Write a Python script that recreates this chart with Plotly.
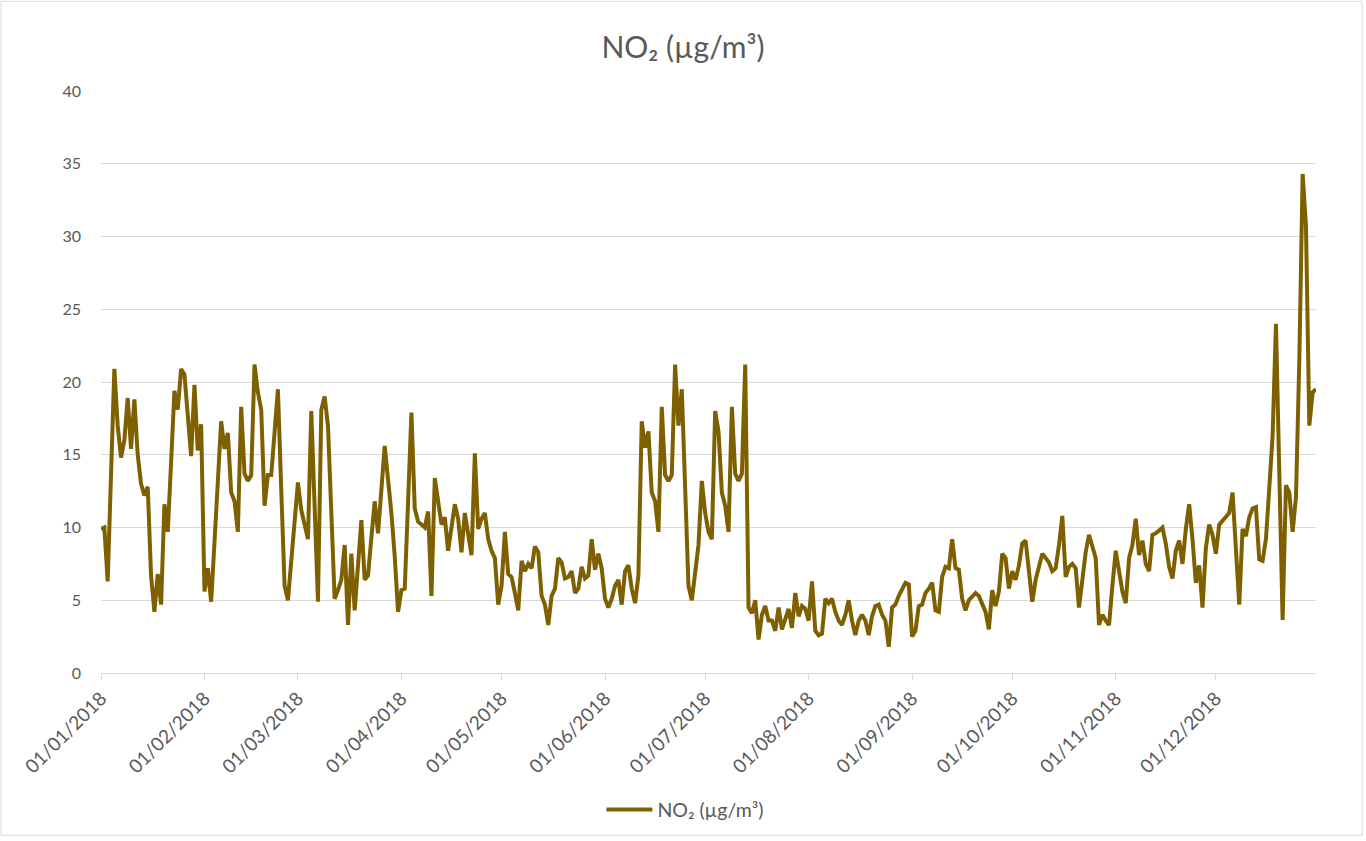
import pandas as pd
import plotly.graph_objects as go

# Daily NO2 concentrations for 2018 (µg/m³), one list per month
jan = [9.9, 10.0, 6.3, 13.5, 20.9, 17.0, 14.8, 16.0, 18.9, 15.4, 18.8, 15.0, 13.0, 12.2, 12.8, 6.7,
       4.2, 6.8, 4.7, 11.6, 9.7, 14.5, 19.4, 18.1, 20.9, 20.5, 17.8, 14.9, 19.8, 15.3, 17.1]
feb = [5.6, 7.2, 4.9, 9.0, 13.2, 17.3, 15.4, 16.5, 12.4, 11.8, 9.7, 18.3, 13.7, 13.2, 13.6, 21.2,
       19.3, 18.1, 11.5, 13.6, 13.6, 16.8, 19.5, 12.6, 6.0, 5.0, 7.7, 10.4]
mar = [13.1, 11.2, 10.3, 9.2, 18.0, 11.5, 4.9, 18.1, 19.0, 17.0, 11.0, 5.1, 5.7, 6.4, 8.8, 3.3,
       8.2, 4.3, 7.4, 10.5, 6.4, 6.7, 9.3, 11.8, 9.6, 12.6, 15.6, 13.3, 11.0, 8.0, 4.2]
apr = [5.7, 5.8, 11.8, 17.9, 11.3, 10.4, 10.2, 10.0, 11.1, 5.3, 13.4, 11.8, 10.2, 10.7, 8.4, 10.0,
       11.6, 10.6, 8.3, 11.0, 9.5, 8.1, 15.1, 9.9, 10.6, 11.0, 9.2, 8.4, 7.9, 4.7]
may = [6.0, 9.7, 6.8, 6.6, 5.5, 4.3, 7.7, 7.0, 7.5, 7.2, 8.7, 8.3, 5.3, 4.7, 3.3, 5.3,
       5.8, 7.9, 7.6, 6.5, 6.6, 7.0, 5.5, 5.8, 7.3, 6.5, 6.7, 9.2, 7.1, 8.2, 7.2]
jun = [5.1, 4.5, 5.1, 6.0, 6.4, 4.7, 7.0, 7.4, 5.8, 4.8, 6.7, 17.3, 15.5, 16.6, 12.4, 11.8,
       9.7, 18.3, 13.6, 13.2, 13.6, 21.2, 17.0, 19.5, 12.7, 6.0, 5.0, 6.9, 8.8, 13.2]
jul = [11.0, 9.7, 9.2, 18.0, 16.6, 12.4, 11.5, 9.7, 18.3, 13.7, 13.2, 13.7, 21.2, 4.5, 4.1, 5.0,
       2.3, 4.0, 4.6, 3.6, 3.6, 2.9, 4.5, 3.0, 3.8, 4.4, 3.1, 5.5, 3.9, 4.6, 4.4]
aug = [3.6, 6.3, 2.9, 2.6, 2.7, 5.1, 4.8, 5.1, 4.2, 3.6, 3.3, 4.0, 5.0, 3.6, 2.6, 3.6,
       4.0, 3.6, 2.6, 3.9, 4.6, 4.7, 4.0, 3.6, 1.8, 4.5, 4.7, 5.3, 5.8, 6.2, 6.1]
sep = [2.5, 2.9, 4.6, 4.7, 5.5, 5.8, 6.2, 4.3, 4.2, 6.6, 7.3, 7.2, 9.2, 7.2, 7.1, 5.1,
       4.3, 5.0, 5.3, 5.5, 5.3, 4.7, 4.2, 3.0, 5.7, 4.6, 5.6, 8.2, 7.9, 5.8]
oct_ = [7.0, 6.4, 7.4, 8.9, 9.1, 7.0, 4.9, 6.4, 7.3, 8.2, 7.9, 7.6, 7.0, 7.2, 8.8, 10.8,
        6.6, 7.3, 7.5, 7.2, 4.5, 6.5, 8.3, 9.5, 8.7, 7.9, 3.3, 4.0, 3.6, 3.3, 6.0]
nov = [8.4, 7.0, 5.6, 4.8, 7.9, 8.8, 10.6, 8.1, 9.1, 7.5, 7.0, 9.5, 9.6, 9.8, 10.0, 8.9,
       7.3, 6.5, 8.4, 9.1, 7.5, 9.9, 11.6, 9.2, 6.2, 7.4, 4.5, 8.6, 10.2, 9.5]
dec = [8.2, 10.2, 10.5, 10.7, 11.0, 12.4, 7.9, 4.7, 9.9, 9.4, 10.7, 11.3, 11.4, 7.8, 7.7, 9.2,
       12.7, 16.3, 24.0, 14.0, 3.65, 12.9, 12.4, 9.7, 12.1, 21.5, 34.3, 30.7, 17.0, 19.3, 19.5]

no2 = jan + feb + mar + apr + may + jun + jul + aug + sep + oct_ + nov + dec
dates = pd.date_range("2018-01-01", periods=len(no2), freq="D")

series_name = "NO\u2082 (\u00b5g/m\u00b3)"
line_color = "#7f6000"
text_color = "#595959"
grid_color = "#d9d9d9"
font_family = "Lato, 'Open Sans', sans-serif"

fig = go.Figure()
fig.add_trace(go.Scatter(
    x=dates, y=no2, mode="lines", name=series_name,
    line=dict(color=line_color, width=4),
))

fig.update_layout(
    width=1366, height=841,
    margin=dict(l=101, r=50, t=91, b=166),
    paper_bgcolor="white", plot_bgcolor="white",
    font=dict(family=font_family, color=text_color, size=16),
    title=dict(text=series_name, x=0.5, xanchor="center", y=0.944, yanchor="middle",
               font=dict(size=30, color=text_color, family=font_family)),
    showlegend=True,
    legend=dict(orientation="h", x=0.481, xanchor="center", y=-0.235, yanchor="middle",
                font=dict(size=19.5, color=text_color), itemwidth=46),
    xaxis=dict(
        type="date", range=["2018-01-01", "2018-12-31"],
        tick0="2018-01-01", dtick="M1", tickformat="%d/%m/%Y", tickangle=-45,
        showgrid=False, showline=True, linecolor=grid_color, linewidth=1,
        ticks="outside", ticklen=6, tickcolor=grid_color,
        tickfont=dict(size=19, color=text_color), zeroline=False,
    ),
    yaxis=dict(
        range=[0, 40], dtick=5, showgrid=True, gridcolor=grid_color, gridwidth=1,
        zeroline=False, showline=False, ticks="", ticklabelstandoff=19,
        tickfont=dict(size=16, color=text_color),
    ),
    shapes=[dict(type="rect", xref="paper", yref="paper",
                 x0=-0.0823, x1=1.0379, y0=-0.279, y1=1.154,
                 line=dict(color=grid_color, width=1), fillcolor="rgba(0,0,0,0)", layer="below")],
)

fig.write_html("out.html")
